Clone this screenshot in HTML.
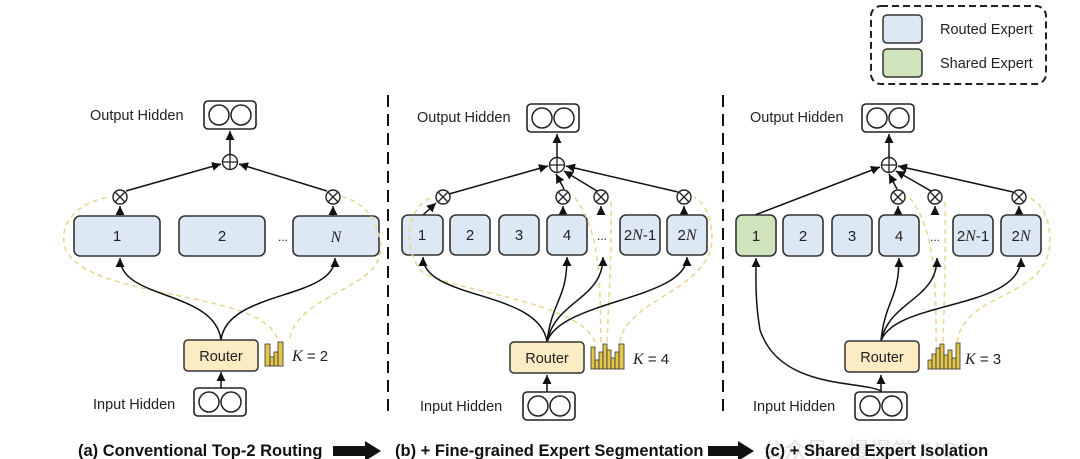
<!DOCTYPE html>
<html><head><meta charset="utf-8"><style>
html,body{margin:0;padding:0;background:#fff;}
svg{display:block;font-family:"Liberation Sans","Noto Sans CJK SC",sans-serif;}
.t{font-size:14.5px;fill:#222;}
.n{font-size:15px;fill:#222;text-anchor:middle;}
.i{font-family:"Liberation Serif",serif;font-style:italic;font-size:16px;}
.cap{font-size:16.5px;font-weight:bold;fill:#111;}
.box{fill:#dce8f4;stroke:#333;stroke-width:1.6;}
.ln{fill:none;stroke:#111;stroke-width:1.5;}
.dy{fill:none;stroke:#ecd693;stroke-width:1.6;stroke-dasharray:5 4;}
.dv{stroke:#111;stroke-width:2;stroke-dasharray:12 7;}
</style></head><body>
<svg width="1080" height="459" viewBox="0 0 1080 459">
<defs>
<marker id="a" markerWidth="8" markerHeight="8" refX="6" refY="3" orient="auto"><path d="M0,0 L6,3 L0,6z" fill="#111"/></marker>
<g id="hid"><rect x="0" y="0" width="52" height="28" rx="4" fill="#fff" stroke="#222" stroke-width="1.6"/><circle cx="15" cy="14" r="10" fill="none" stroke="#222" stroke-width="1.5"/><circle cx="37" cy="14" r="10" fill="none" stroke="#222" stroke-width="1.5"/></g>
<g id="pl"><circle r="7.5" fill="#fff" stroke="#222" stroke-width="1.4"/><path d="M-7.5,0H7.5M0,-7.5V7.5" stroke="#222" stroke-width="1.3"/></g>
<g id="ot"><circle r="7" fill="#fff" stroke="#222" stroke-width="1.4"/><path d="M-5,-5L5,5M5,-5L-5,5" stroke="#222" stroke-width="1.3"/></g>
<g id="rt"><rect x="0" y="0" width="74" height="31" rx="4" fill="#fbecc4" stroke="#333" stroke-width="1.5"/><text x="37" y="21" text-anchor="middle" font-size="14.5" fill="#222">Router</text></g>
</defs>

<rect x="871" y="6" width="175" height="78" rx="10" fill="#fff" stroke="#222" stroke-width="2" stroke-dasharray="7 4"/>
<rect x="883" y="15" width="39" height="28" rx="4" fill="#dce8f4" stroke="#333" stroke-width="1.5"/>
<rect x="883" y="49" width="39" height="28" rx="4" fill="#cfe3bd" stroke="#333" stroke-width="1.5"/>
<text class="t" x="940" y="34">Routed Expert</text>
<text class="t" x="940" y="68">Shared Expert</text>

<line class="dv" x1="388" y1="95" x2="388" y2="412"/>
<line class="dv" x1="723" y1="95" x2="723" y2="412"/>

<!-- panel a -->
<text class="t" x="90" y="120">Output Hidden</text>
<use href="#hid" x="204" y="101"/>
<line class="ln" x1="230" y1="155" x2="230" y2="131" marker-end="url(#a)"/>
<use href="#pl" x="230" y="162"/>
<line class="ln" x1="126" y1="191" x2="221" y2="164" marker-end="url(#a)"/>
<line class="ln" x1="327" y1="191" x2="239" y2="164" marker-end="url(#a)"/>
<use href="#ot" x="120" y="197"/><use href="#ot" x="333" y="197"/>
<line class="ln" x1="120" y1="216" x2="120" y2="206" marker-end="url(#a)"/>
<line class="ln" x1="333" y1="216" x2="333" y2="206" marker-end="url(#a)"/>
<rect class="box" x="74" y="216" width="86" height="40" rx="6"/>
<rect class="box" x="179" y="216" width="86" height="40" rx="6"/>
<rect class="box" x="293" y="216" width="86" height="40" rx="6"/>
<text class="n" x="117" y="241">1</text><text class="n" x="222" y="241">2</text><text class="n i" x="336" y="242">N</text>
<text x="278" y="241" font-size="12" fill="#222">...</text>
<path class="dy" d="M277,338 C260,290 90,300 66,250 C55,220 85,200 110,197"/>
<path class="dy" d="M290,338 C300,290 390,290 380,240 C375,210 355,200 343,197"/>
<path class="ln" d="M221,340 C215,290 120,300 120,258" marker-end="url(#a)"/>
<path class="ln" d="M221,340 C227,290 335,300 335,258" marker-end="url(#a)"/>
<use href="#rt" x="184" y="340"/>
<g fill="#e3c64c" stroke="#333" stroke-width="0.8"><rect x="265" y="344" width="5" height="22"/><rect x="270" y="357" width="4" height="9"/><rect x="274" y="352" width="4" height="14"/><rect x="278" y="342" width="5" height="24"/></g>
<text x="292" y="361" font-size="15" fill="#222"><tspan class="i">K</tspan> = 2</text>
<text class="t" x="93" y="409">Input Hidden</text>
<use href="#hid" x="194" y="388"/>
<line class="ln" x1="221" y1="388" x2="221" y2="372" marker-end="url(#a)"/>
<text class="cap" x="78" y="456">(a) Conventional Top-2 Routing</text>
<path d="M333,446 H365 V441 L381,451 L365,461 V456 H333z" fill="#111"/>

<!-- panel b -->
<text class="t" x="417" y="122">Output Hidden</text>
<use href="#hid" x="527" y="104"/>
<line class="ln" x1="557" y1="157" x2="557" y2="134" marker-end="url(#a)"/>
<use href="#pl" x="557" y="165"/>
<line class="ln" x1="449" y1="194" x2="548" y2="166" marker-end="url(#a)"/>
<line class="ln" x1="564" y1="189" x2="556" y2="174" marker-end="url(#a)"/>
<line class="ln" x1="597" y1="191" x2="564" y2="171" marker-end="url(#a)"/>
<line class="ln" x1="678" y1="192" x2="566" y2="166" marker-end="url(#a)"/>
<use href="#ot" x="443" y="197"/><use href="#ot" x="563" y="197"/><use href="#ot" x="601" y="197"/><use href="#ot" x="684" y="197"/>
<line class="ln" x1="423" y1="215" x2="436" y2="203" marker-end="url(#a)"/>
<line class="ln" x1="563" y1="215" x2="563" y2="206" marker-end="url(#a)"/>
<line class="ln" x1="601" y1="215" x2="601" y2="206" marker-end="url(#a)"/>
<line class="ln" x1="684" y1="215" x2="684" y2="206" marker-end="url(#a)"/>
<rect class="box" x="402" y="215" width="41" height="40" rx="6"/>
<rect class="box" x="450" y="215" width="40" height="40" rx="6"/>
<rect class="box" x="499" y="215" width="40" height="40" rx="6"/>
<rect class="box" x="547" y="215" width="40" height="40" rx="6"/>
<rect class="box" x="620" y="215" width="40" height="40" rx="6"/>
<rect class="box" x="667" y="215" width="40" height="40" rx="6"/>
<text class="n" x="422" y="240">1</text><text class="n" x="470" y="240">2</text><text class="n" x="519" y="240">3</text><text class="n" x="567" y="240">4</text>
<text x="597" y="240" font-size="12" fill="#222">...</text>
<text class="n" x="640" y="240">2<tspan class="i">N</tspan>-1</text><text class="n" x="687" y="240">2<tspan class="i">N</tspan></text>
<path class="dy" d="M595,342 C580,300 440,290 420,270 C400,240 410,205 433,197"/>
<path class="dy" d="M601,342 C600,280 600,230 575,198"/>
<path class="dy" d="M607,342 C610,280 612,230 611,200"/>
<path class="dy" d="M620,342 C625,300 710,290 712,240 C712,210 700,200 694,197"/>
<path class="ln" d="M547,342 C540,290 423,300 423,257" marker-end="url(#a)"/>
<path class="ln" d="M547,342 C552,300 567,300 567,257" marker-end="url(#a)"/>
<path class="ln" d="M547,342 C555,300 603,300 603,257" marker-end="url(#a)"/>
<path class="ln" d="M547,342 C560,300 687,300 687,257" marker-end="url(#a)"/>
<use href="#rt" x="510" y="342"/>
<g fill="#e3c64c" stroke="#333" stroke-width="0.8"><rect x="591" y="347" width="4" height="22"/><rect x="595" y="360" width="4" height="9"/><rect x="599" y="352" width="4" height="17"/><rect x="603" y="344" width="4" height="25"/><rect x="607" y="350" width="4" height="19"/><rect x="611" y="358" width="4" height="11"/><rect x="615" y="352" width="4" height="17"/><rect x="619" y="344" width="5" height="25"/></g>
<text x="633" y="364" font-size="15" fill="#222"><tspan class="i">K</tspan> = 4</text>
<text class="t" x="420" y="411">Input Hidden</text>
<use href="#hid" x="523" y="392"/>
<line class="ln" x1="547" y1="392" x2="547" y2="375" marker-end="url(#a)"/>
<text class="cap" x="395" y="456">(b) + Fine-grained Expert Segmentation</text>
<path d="M708,446 H738 V441 L754,451 L738,461 V456 H708z" fill="#111"/>

<!-- panel c -->
<text class="t" x="750" y="122">Output Hidden</text>
<use href="#hid" x="862" y="104"/>
<line class="ln" x1="889" y1="157" x2="889" y2="134" marker-end="url(#a)"/>
<use href="#pl" x="889" y="165"/>
<line class="ln" x1="755" y1="215" x2="880" y2="167" marker-end="url(#a)"/>
<line class="ln" x1="897" y1="189" x2="889" y2="174" marker-end="url(#a)"/>
<line class="ln" x1="931" y1="191" x2="896" y2="171" marker-end="url(#a)"/>
<line class="ln" x1="1013" y1="192" x2="898" y2="166" marker-end="url(#a)"/>
<use href="#ot" x="898" y="197"/><use href="#ot" x="935" y="197"/><use href="#ot" x="1019" y="197"/>
<line class="ln" x1="898" y1="215" x2="898" y2="206" marker-end="url(#a)"/>
<line class="ln" x1="935" y1="215" x2="935" y2="206" marker-end="url(#a)"/>
<line class="ln" x1="1019" y1="215" x2="1019" y2="206" marker-end="url(#a)"/>
<rect x="736" y="215" width="40" height="41" rx="6" fill="#cfe3bd" stroke="#333" stroke-width="1.6"/>
<rect class="box" x="783" y="215" width="40" height="41" rx="6"/>
<rect class="box" x="832" y="215" width="40" height="41" rx="6"/>
<rect class="box" x="879" y="215" width="40" height="41" rx="6"/>
<rect class="box" x="953" y="215" width="40" height="41" rx="6"/>
<rect class="box" x="1001" y="215" width="40" height="41" rx="6"/>
<text class="n" x="756" y="241">1</text><text class="n" x="803" y="241">2</text><text class="n" x="852" y="241">3</text><text class="n" x="899" y="241">4</text>
<text x="930" y="241" font-size="12" fill="#222">...</text>
<text class="n" x="973" y="241">2<tspan class="i">N</tspan>-1</text><text class="n" x="1021" y="241">2<tspan class="i">N</tspan></text>
<path class="dy" d="M936,342 C936,280 935,230 910,198"/>
<path class="dy" d="M943,342 C945,280 946,230 945,200"/>
<path class="dy" d="M957,342 C965,290 1050,300 1050,240 C1050,210 1035,200 1028,197"/>
<path class="ln" d="M881,391 C860,380 780,390 760,330 C755,300 756,280 756,258" marker-end="url(#a)"/>
<path class="ln" d="M881,341 C885,300 899,300 899,258" marker-end="url(#a)"/>
<path class="ln" d="M881,341 C890,300 937,300 937,258" marker-end="url(#a)"/>
<path class="ln" d="M881,341 C895,300 1021,310 1021,258" marker-end="url(#a)"/>
<use href="#rt" x="845" y="341"/>
<g fill="#e3c64c" stroke="#333" stroke-width="0.8"><rect x="928" y="360" width="4" height="9"/><rect x="932" y="354" width="4" height="15"/><rect x="936" y="348" width="4" height="21"/><rect x="940" y="344" width="4" height="25"/><rect x="944" y="355" width="4" height="14"/><rect x="948" y="350" width="4" height="19"/><rect x="952" y="358" width="4" height="11"/><rect x="956" y="343" width="4" height="26"/></g>
<text x="965" y="364" font-size="15" fill="#222"><tspan class="i">K</tspan>  = 3</text>
<text class="t" x="753" y="411">Input Hidden</text>
<use href="#hid" x="855" y="392"/>
<line class="ln" x1="881" y1="392" x2="881" y2="375" marker-end="url(#a)"/>
<text x="762" y="458" font-size="22" fill="#ccc" opacity="0.6">公众号 · 慢慢学 AIGC</text>
<text class="cap" x="765" y="456">(c) + Shared Expert Isolation</text>
</svg>
</body></html>
